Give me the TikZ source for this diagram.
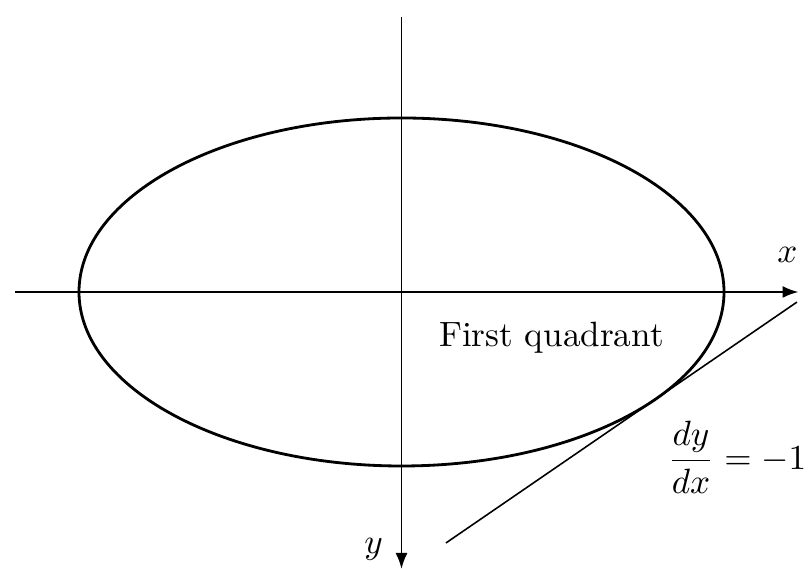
\documentclass[tikz,border=0pt]{standalone}
\usepackage{amsmath}
\usetikzlibrary{arrows.meta,calc}

\begin{document}
\begin{tikzpicture}[>={Latex[length=1.6mm,width=1.2mm]},
  axis/.style={->, line width=0.55pt},
  curve/.style={line width=0.8pt},
  tangent/.style={line width=0.45pt},
  lbl/.style={inner sep=1pt}]
\useasboundingbox (-4.015,-2.78) rectangle (4.105,2.92);
\coordinate (o)  at (0,0);
\coordinate (xl) at (-3.86,0);
\coordinate (xr) at (3.97,0);
\coordinate (yt) at (0,2.75);
\coordinate (yb) at (0,-2.77);
\draw[axis] (xl) -- (xr);
\draw[axis] (yt) -- (yb);
\draw[curve] (o) ellipse [x radius=3.225, y radius=1.74];
\coordinate (touch) at (-38.2:3.225 and 1.74);
\coordinate (tlo) at ($(touch)+(-2.09,-1.434)$);
\coordinate (thi) at ($(touch)+(1.42,0.975)$);
\draw[tangent] (tlo) -- (thi);
\node[lbl] (xlab) at (3.86,0.37) {$x$};
\node[lbl] (ylab) at (-0.28,-2.57) {$y$};
\node (quad) at (1.5,-0.46) {First quadrant};
\node[anchor=east, inner sep=1pt] (slope) at (4.09,-1.65) {$\dfrac{dy}{dx} = -1$};
\end{tikzpicture}
\end{document}
